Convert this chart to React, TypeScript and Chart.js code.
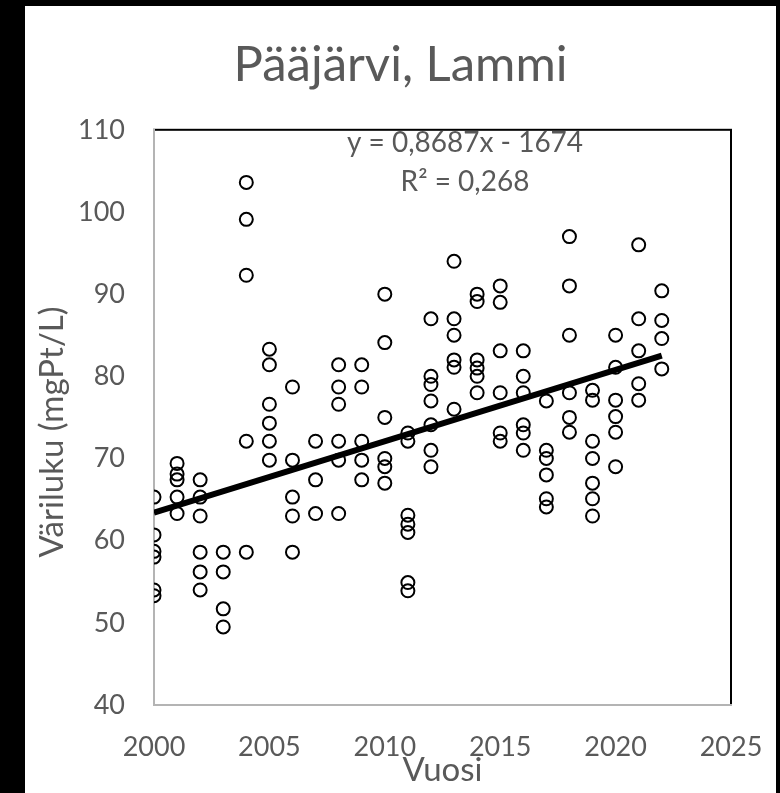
import React, { useEffect, useRef } from "react";
import { Chart, registerables } from "chart.js";

Chart.register(...registerables);

const chartTitle = "Pääjärvi, Lammi";
const xAxisTitle = "Vuosi";
const yAxisTitle = "Väriluku (mgPt/L)";
const equationText = "y = 0,8687x - 1674";
const r2Text = "R² = 0,268";

const years = [
  2000, 2001, 2002, 2003, 2004, 2005, 2006, 2007, 2008, 2009, 2010, 2011,
  2012, 2013, 2014, 2015, 2016, 2017, 2018, 2019, 2020, 2021, 2022,
];

const colourByYear: number[][] = [
  [65.3, 60.7, 58.7, 58.0, 54.0, 53.3],
  [69.4, 68.1, 67.4, 65.3, 63.3],
  [67.4, 65.3, 63.0, 58.6, 56.2, 54.0],
  [58.6, 56.2, 51.7, 49.5],
  [103.6, 99.1, 92.3, 72.1, 58.6],
  [83.3, 81.4, 76.6, 74.3, 72.1, 69.8],
  [78.7, 69.8, 65.3, 63.0, 58.6],
  [72.1, 67.4, 63.3],
  [81.4, 78.7, 76.6, 72.1, 69.8, 63.3],
  [81.4, 78.7, 72.1, 69.8, 67.4],
  [90.0, 84.1, 75.0, 70.0, 69.0, 67.0],
  [73.1, 72.1, 63.1, 62.0, 61.0, 54.9, 53.9],
  [87.0, 80.0, 79.0, 77.0, 74.1, 71.0, 69.0],
  [94.0, 87.0, 85.0, 82.0, 81.1, 76.0],
  [90.0, 89.1, 82.0, 81.0, 80.0, 78.0],
  [91.0, 89.0, 83.1, 78.0, 73.1, 72.1],
  [83.1, 80.0, 78.0, 74.1, 73.1, 71.0],
  [77.0, 71.0, 70.0, 68.0, 65.1, 64.1],
  [97.0, 91.0, 85.0, 78.0, 75.0, 73.2],
  [78.3, 77.1, 72.1, 70.0, 67.0, 65.1, 63.0],
  [85.0, 81.1, 77.1, 75.1, 73.2, 69.0],
  [96.0, 87.0, 83.1, 79.1, 77.1],
  [90.4, 86.8, 84.6, 80.9],
];

// Trendline coefficients as printed on the chart
const trendSlope = 0.8687;
const trendIntercept = -1674;
const trendYears = [2000, 2022];

const xTicks = [2000, 2005, 2010, 2015, 2020, 2025];
const yTicks = [40, 50, 60, 70, 80, 90, 100, 110];

const TEXT = "#595959";
const FONT = "Lato";

export default function App() {
  const ref = useRef<HTMLCanvasElement | null>(null);

  useEffect(() => {
    if (!ref.current) return;
    const points: { x: number; y: number }[] = [];
    years.forEach((yr, i) => {
      colourByYear[i].forEach((v) => points.push({ x: yr, y: v }));
    });
    const trend = trendYears.map((x) => ({ x, y: trendSlope * x + trendIntercept }));

    const framePlugin = {
      id: "frame",
      beforeDraw(chart: any) {
        const { ctx, chartArea } = chart;
        ctx.save();
        ctx.fillStyle = "#000000";
        ctx.fillRect(0, 0, chart.width, chart.height);
        ctx.fillStyle = "#ffffff";
        ctx.fillRect(25, 6, 751, chart.height - 6);
        ctx.strokeStyle = "#000000";
        ctx.lineWidth = 2;
        ctx.strokeRect(chartArea.left, chartArea.top, chartArea.right - chartArea.left, chartArea.bottom - chartArea.top);
        ctx.restore();
      },
      afterDraw(chart: any) {
        const { ctx } = chart;
        ctx.save();
        ctx.fillStyle = TEXT;
        ctx.textAlign = "center";
        ctx.textBaseline = "middle";
        ctx.font = `28px ${FONT}`;
        ctx.fillText(equationText, 465, 143);
        ctx.fillText(r2Text, 465, 182);
        ctx.translate(52, 432);
        ctx.rotate(-Math.PI / 2);
        ctx.font = `33px ${FONT}`;
        ctx.fillText(yAxisTitle, 0, 0);
        ctx.restore();
      },
    };

    const chart = new Chart(ref.current, {
      type: "scatter",
      data: {
        datasets: [
          {
            type: "line",
            label: "Trend",
            data: trend,
            borderColor: "#000000",
            borderWidth: 6,
            pointRadius: 0,
            fill: false,
            order: 0,
          } as any,
          {
            label: "Väriluku",
            data: points,
            pointRadius: 6.5,
            pointBorderWidth: 2,
            borderColor: "#000000",
            backgroundColor: "rgba(0,0,0,0)",
            pointBackgroundColor: "rgba(0,0,0,0)",
            pointBorderColor: "#000000",
            order: 1,
          } as any,
        ],
      },
      options: {
        animation: false,
        responsive: false,
        devicePixelRatio: 1,
        layout: { padding: { left: 25, right: 4, top: 6, bottom: 0 } },
        plugins: {
          legend: { display: false },
          tooltip: { enabled: false },
          title: {
            display: true,
            text: chartTitle,
            color: TEXT,
            font: { family: FONT, size: 49, weight: "normal" as any },
            padding: { top: 30, bottom: 35 },
          },
        },
        scales: {
          x: {
            type: "linear",
            min: 2000,
            max: 2025,
            afterBuildTicks(scale: any) {
              scale.ticks = xTicks.map((v) => ({ value: v }));
            },
            afterFit(scale: any) {
              scale.height = 88;
              scale.paddingLeft = 0;
              scale.paddingRight = 49;
            },
            grid: { display: false, drawTicks: false },
            border: { display: true, color: "#b4b4b4", width: 2 },
            ticks: {
              color: TEXT,
              font: { family: FONT, size: 27 },
              padding: 26,
              maxRotation: 0,
              callback: (v: any) => String(v),
            },
            title: {
              display: true,
              text: xAxisTitle,
              color: TEXT,
              font: { family: FONT, size: 33 },
              padding: { top: 0, bottom: 3 },
            },
          },
          y: {
            type: "linear",
            min: 40,
            max: 110,
            afterBuildTicks(scale: any) {
              scale.ticks = yTicks.map((v) => ({ value: v }));
            },
            afterFit(scale: any) {
              scale.width = 129;
              scale.paddingTop = 0;
              scale.paddingBottom = 0;
            },
            grid: { display: false, drawTicks: false },
            border: { display: true, color: "#b4b4b4", width: 2 },
            ticks: {
              color: TEXT,
              font: { family: FONT, size: 27 },
              padding: 29,
              callback: (v: any) => String(v),
            },
          },
        },
      },
      plugins: [framePlugin],
    });
    return () => chart.destroy();
  }, []);

  return (
    <div style={{ position: "fixed", left: 0, top: 0, width: 780, height: 793 }}>
      <canvas ref={ref} width={780} height={793} style={{ display: "block", width: 780, height: 793 }} />
    </div>
  );
}
